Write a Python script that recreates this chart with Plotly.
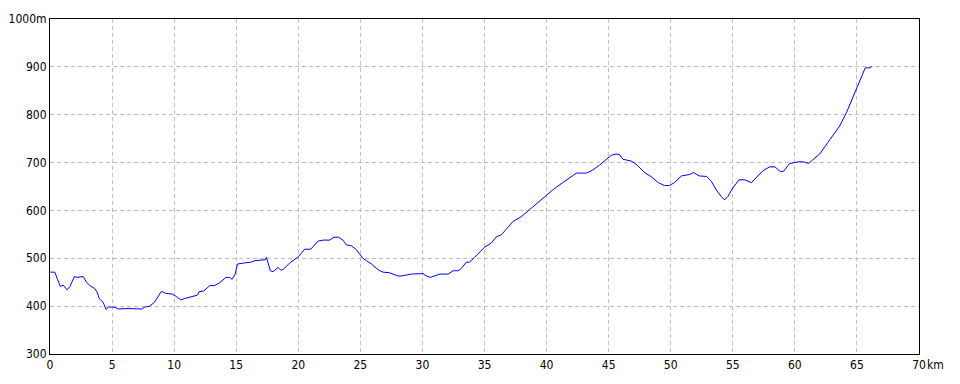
import plotly.graph_objects as go

distance_km = [0.04, 0.39, 0.6, 0.84, 1.06, 1.38, 1.6, 1.97, 2.18, 2.67, 2.94, 3.26, 3.6, 3.82, 3.96,
               4.28, 4.52, 4.7, 5.22, 5.49, 6.29, 6.83, 7.37, 7.63, 8.04, 8.44, 8.76, 8.98, 9.3,
               9.86, 10.19, 10.53, 10.86, 11.4, 11.88, 12.0, 12.4, 12.87, 13.27, 13.67, 14.16,
               14.48, 14.67, 14.9, 15.1, 15.6, 16.2, 16.5, 16.9, 17.35, 17.43, 17.75, 17.97,
               18.37, 18.6, 18.8, 19.3, 20.0, 20.52, 21.0, 21.6, 22.0, 22.53, 22.88, 23.26, 23.6,
               23.87, 24.28, 24.68, 25.0, 25.2, 25.49, 25.9, 26.2, 26.56, 26.83, 27.3, 27.63,
               28.03, 28.3, 28.7, 29.1, 30.05, 30.3, 30.64, 30.9, 31.4, 32.07, 32.47, 32.87,
               33.14, 33.54, 33.8, 34.2, 34.6, 35.0, 35.55, 35.96, 36.36, 37.3, 37.97, 38.6,
               39.3, 40.0, 40.6, 41.3, 41.7, 42.4, 43.2, 43.7, 44.28, 44.8, 45.2, 45.6, 45.9,
               46.15, 46.83, 47.2, 47.9, 48.45, 49.0, 49.5, 49.9, 50.3, 50.86, 51.5, 51.85,
               52.3, 52.9, 53.27, 53.67, 54.07, 54.34, 54.6, 55.0, 55.5, 55.96, 56.5, 56.9,
               57.43, 57.97, 58.4, 58.83, 59.1, 59.58, 60.38, 60.8, 61.1, 61.45, 62.0, 62.66,
               63.6, 64.15, 64.68, 65.0, 65.34, 65.67, 66.07, 66.2]
elevation_m = [471, 471, 456, 441, 444, 434, 441, 462, 460, 462, 450, 442, 437, 428, 416,
               408, 393, 398, 398, 394, 395, 394, 394, 398, 400, 409, 421, 431, 427,
               425, 420, 413, 416, 420, 423, 430, 432, 443, 443, 449, 460,
               460, 456, 466, 488, 490, 492, 495, 496, 497, 502, 474, 472,
               481, 475, 477, 490, 503, 519, 519, 536, 538, 538, 544, 544, 538,
               528, 526, 518, 508, 500, 495, 488, 481, 474, 471, 470, 467,
               463, 463, 465, 467, 468, 463, 460, 462, 467, 467, 474, 474,
               479, 492, 492, 502, 513, 523, 532, 545, 549, 577, 587, 601,
               617, 631, 645, 658, 665, 678, 678, 684, 695, 706, 715, 718, 716,
               707, 703, 697, 679, 670, 658, 652, 652, 658, 672, 675, 679,
               672, 671, 661, 643, 629, 622, 629, 647, 664, 664, 658, 668,
               683, 691, 691, 681, 682, 698, 702, 701, 698, 706, 718, 742,
               776, 804, 838, 856, 877, 898, 898, 901]

x_tick_vals = [0, 5, 10, 15, 20, 25, 30, 35, 40, 45, 50, 55, 60, 65, 70]
x_tick_text = ["0", "5", "10", "15", "20", "25", "30", "35", "40", "45", "50", "55", "60", "65", "70"]
y_tick_vals = [300, 400, 500, 600, 700, 800, 900, 1000]
y_tick_text = ["300", "400", "500", "600", "700", "800", "900", "1000m"]

font_family = "Liberation Sans Narrow, DejaVu Sans Condensed, Liberation Sans, sans-serif"

fig = go.Figure()
fig.add_trace(go.Scatter(x=distance_km, y=elevation_m, mode="lines",
                         line=dict(color="#0000ff", width=1), hoverinfo="skip"))

axis_common = dict(showline=True, linecolor="#000000", linewidth=1, mirror=True,
                   showgrid=True, gridcolor="#c0c0c0", griddash="4px,3px", gridwidth=1,
                   zeroline=False, ticks="", automargin=False,
                   tickfont=dict(family=font_family, size=12, color="#000000"))

fig.update_xaxes(range=[0, 70], tickvals=x_tick_vals, ticktext=x_tick_text, **axis_common)
fig.update_yaxes(range=[300, 1000], tickvals=y_tick_vals, ticktext=y_tick_text, **axis_common)

fig.add_annotation(x=70, y=0, xref="x", yref="paper", yanchor="top", xanchor="left",
                   text="km", showarrow=False, xshift=6, yshift=-2,
                   font=dict(family=font_family, size=12, color="#000000"))

fig.update_layout(width=960, height=384, margin=dict(l=50, r=41, t=19, b=30),
                  paper_bgcolor="#ffffff", plot_bgcolor="#ffffff", showlegend=False)

fig.write_html("out.html")
